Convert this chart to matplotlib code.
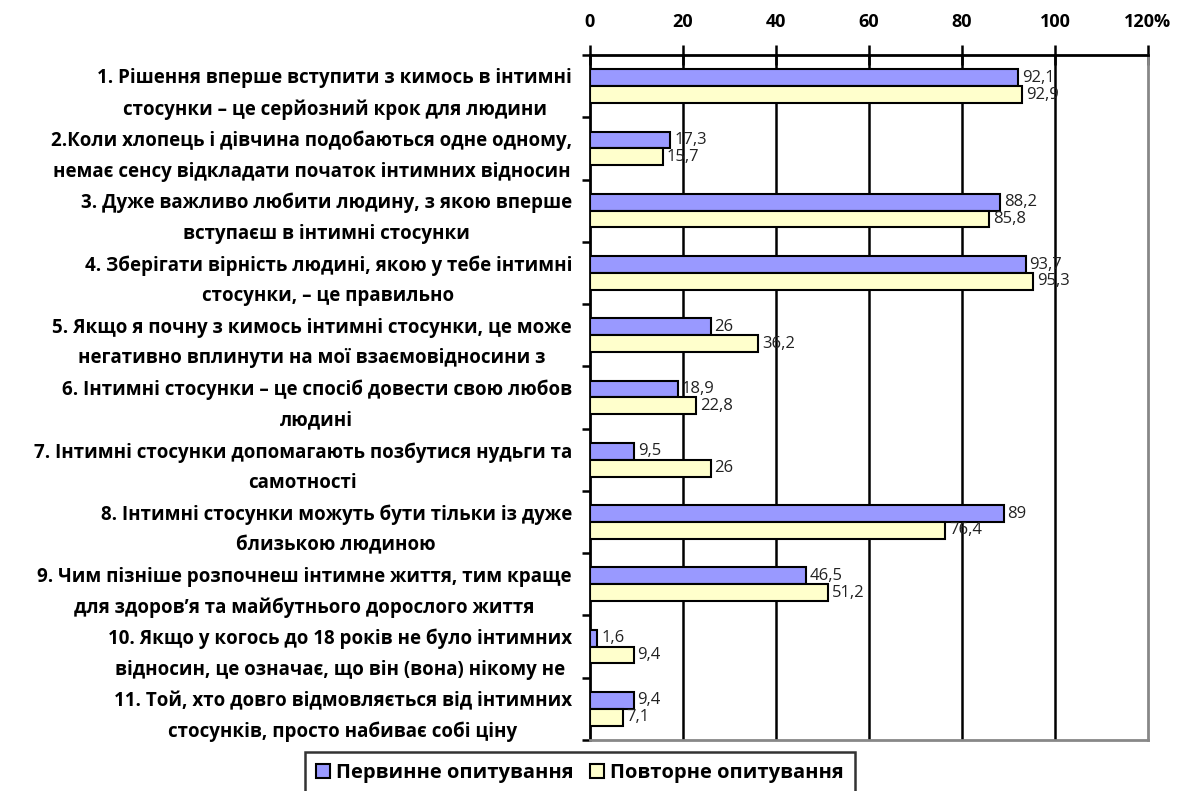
import numpy as np
import matplotlib
matplotlib.use("Agg")
import matplotlib.pyplot as plt

plt.rcParams['font.family'] = ['Open Sans', 'Noto Sans', 'DejaVu Sans']

# statements and survey shares (%)
statements = [
    "1. Рішення вперше вступити з кимось в інтимні\nстосунки – це серйозний крок для людини",
    "2.Коли хлопець і дівчина подобаються одне одному,\nнемає сенсу відкладати початок інтимних відносин",
    "3. Дуже важливо любити людину, з якою вперше\nвступаєш в інтимні стосунки",
    "4. Зберігати вірність людині, якою у тебе інтимні\nстосунки, – це правильно",
    "5. Якщо я почну з кимось інтимні стосунки, це може\nнегативно вплинути на мої взаємовідносини з",
    "6. Інтимні стосунки – це спосіб довести свою любов\nлюдині",
    "7. Інтимні стосунки допомагають позбутися нудьги та\nсамотності",
    "8. Інтимні стосунки можуть бути тільки із дуже\nблизькою людиною",
    "9. Чим пізніше розпочнеш інтимне життя, тим краще\nдля здоров’я та майбутнього дорослого життя",
    "10. Якщо у когось до 18 років не було інтимних\nвідносин, це означає, що він (вона) нікому не",
    "11. Той, хто довго відмовляється від інтимних\nстосунків, просто набиває собі ціну",
]
first_survey = [92.1, 17.3, 88.2, 93.7, 26, 18.9, 9.5, 89, 46.5, 1.6, 9.4]
second_survey = [92.9, 15.7, 85.8, 95.3, 36.2, 22.8, 26, 76.4, 51.2, 9.4, 7.1]
series_names = ["Первинне опитування", "Повторне опитування"]
x_ticks = [0, 20, 40, 60, 80, 100, 120]
x_tick_labels = ["0", "20", "40", "60", "80", "100", "120%"]

fig = plt.figure(figsize=(11.79, 7.91), dpi=100)
ax = fig.add_axes([0.5004, 0.0645, 0.4733, 0.866])

y = np.arange(len(statements))
h = 0.27
b1 = ax.barh(y - h / 2, first_survey, height=h, color='#9999FF',
             edgecolor='black', linewidth=1.5, label=series_names[0], zorder=3)
b2 = ax.barh(y + h / 2, second_survey, height=h, color='#FFFFCC',
             edgecolor='black', linewidth=1.5, label=series_names[1], zorder=3)

def fmt(v):
    return ('%g' % v).replace('.', ',')

for bars, vals in ((b1, first_survey), (b2, second_survey)):
    for bar, v in zip(bars, vals):
        ax.text(v + 0.8, bar.get_y() + bar.get_height() / 2, fmt(v),
                va='center', ha='left', fontsize=12, color='#222222', zorder=4)

ax.set_xlim(0, 120)
ax.set_ylim(len(statements) - 0.5, -0.5)

ax.xaxis.tick_top()
ax.set_xticks(x_ticks)
ax.set_xticklabels(x_tick_labels, fontsize=13, fontweight='bold')
ax.tick_params(axis='x', direction='inout', length=14, width=1.8, pad=10)

ax.set_yticks(y)
ax.set_yticklabels(statements, fontsize=13.5, fontweight='bold',
                   multialignment='center', linespacing=1.7)
ax.set_yticks(np.arange(-0.5, len(statements)), minor=True)
ax.tick_params(axis='y', which='major', length=0, pad=13)
ax.tick_params(axis='y', which='minor', direction='out', length=6, width=1.8)

for xv in x_ticks[1:-1]:
    ax.axvline(xv, color='black', linewidth=1.8, zorder=1)

for side in ('top', 'left'):
    ax.spines[side].set_linewidth(2)
    ax.spines[side].set_color('black')
for side in ('bottom', 'right'):
    ax.spines[side].set_linewidth(2)
    ax.spines[side].set_color('#888888')

leg = fig.legend(handles=[b1, b2], loc='upper center',
                 bbox_to_anchor=(580 / 1179, 1 - 752 / 791), ncol=2,
                 prop={'weight': 'bold', 'size': 14.5}, frameon=True, fancybox=False,
                 handlelength=0.7, handleheight=0.7, handletextpad=0.3,
                 columnspacing=0.8, borderpad=0.55, borderaxespad=0)
leg.get_frame().set_edgecolor('black')
leg.get_frame().set_linewidth(1.8)

fig.savefig('out.png', dpi=100)
